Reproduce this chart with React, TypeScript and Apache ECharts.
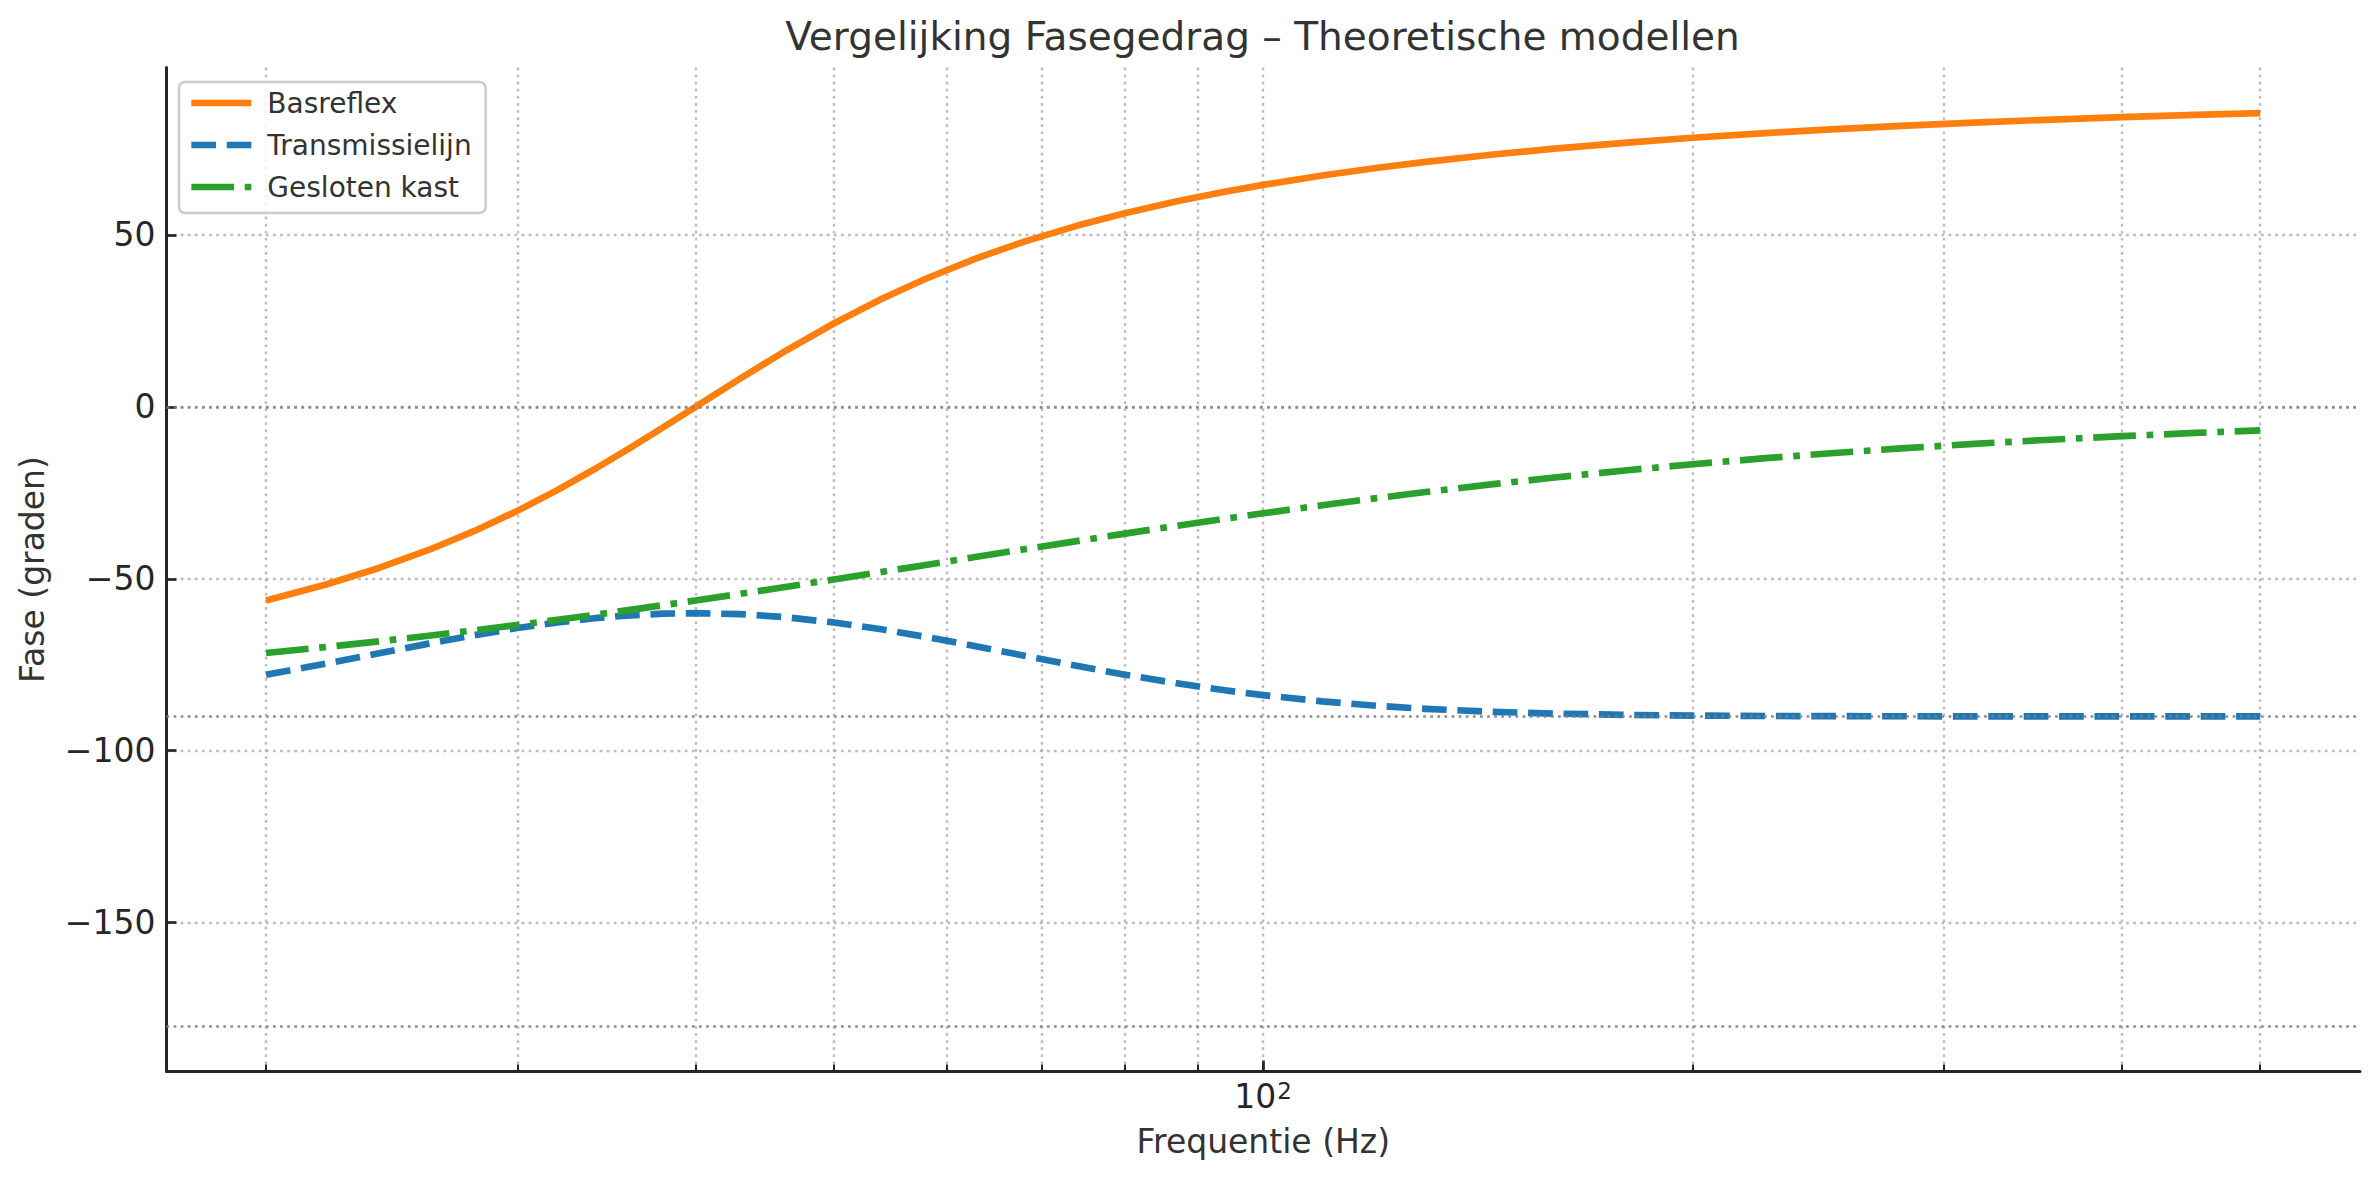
import React, { useEffect, useRef } from 'react';
import * as echarts from 'echarts';

const freqHz = [20, 22, 24, 26, 28, 30, 32, 34, 36, 38, 40, 43, 46, 50, 54, 58, 63, 68, 74, 80, 87, 94, 100, 110, 120, 130, 145, 160, 180, 200, 225, 250, 280, 315, 350, 400, 450, 500];

// Phase in degrees
const basreflex = [-56.31, -51.74, -46.85, -41.62, -36.08, -30.26, -24.23, -18.08, -11.92, -5.86, 0, 8.24, 15.66, 24.23, 31.36, 37.25, 43.23, 48.03, 52.63, 56.31, 59.75, 62.55, 64.54, 67.27, 69.44, 71.24, 73.38, 75.07, 76.84, 78.23, 79.6, 80.68, 81.7, 82.65, 83.39, 84.23, 84.88, 85.4];
const transmissielijn = [-77.88, -74.71, -71.66, -68.86, -66.4, -64.33, -62.69, -61.46, -60.62, -60.15, -60.0, -60.29, -61.08, -62.69, -64.69, -66.88, -69.67, -72.36, -75.31, -77.88, -80.39, -82.43, -83.84, -85.65, -86.92, -87.82, -88.69, -89.2, -89.58, -89.77, -89.89, -89.95, -89.98, -89.99, -90.0, -90.0, -90.0, -90.0];
const geslotenKast = [-71.57, -69.86, -68.2, -66.57, -64.98, -63.43, -61.93, -60.46, -59.04, -57.65, -56.31, -54.38, -52.52, -50.19, -48.01, -45.97, -43.6, -41.42, -39.04, -36.87, -34.59, -32.55, -30.96, -28.61, -26.57, -24.78, -22.48, -20.56, -18.43, -16.7, -14.93, -13.5, -12.09, -10.78, -9.73, -8.53, -7.59, -6.84];

const seriesNames = ['Basreflex', 'Transmissielijn', 'Gesloten kast'];
const seriesColors = ['#ff7f0e', '#1f77b4', '#2ca02c'];
const xGridTicks = [20, 30, 40, 50, 60, 70, 80, 90, 100, 200, 300, 400, 500];
const xMajorTicks = [100];
const yTicks = [-150, -100, -50, 0, 50];
const refLines = [0, -90, -180];
const xRange = [17.03, 587.4];
const yRange = [-193.27, 98.67];

const FONT = 'DejaVu Sans';

export default function App() {
  const ref = useRef<HTMLDivElement>(null);
  useEffect(() => {
    const chart = echarts.init(ref.current!, null, { renderer: 'svg' });
    const gridStyle = { color: '#b0b0b0', width: 2.4, type: [2.7, 4.4], opacity: 0.85 };
    const spine = { color: '#262626', width: 3 };
    const zip = (vals: number[]) => freqHz.map((f, i) => [f, vals[i]]);
    const dashes: any[] = ['solid', [24.7, 10.7], [42.7, 10.7, 6.7, 10.7]];

    chart.setOption({
      animation: false,
      backgroundColor: '#ffffff',
      title: {
        text: 'Vergelijking Fasegedrag – Theoretische modellen',
        left: 1257.5,
        top: 12,
        textAlign: 'center',
        textStyle: { fontFamily: FONT, fontSize: 39, fontWeight: 'normal', color: '#333333' },
      },
      legend: {
        orient: 'vertical',
        left: 179,
        top: 82,
        padding: [7, 14, 12, 9],
        itemWidth: 60,
        itemHeight: 20,
        itemGap: 14,
        backgroundColor: 'rgba(255,255,255,0.8)',
        borderColor: '#cccccc',
        borderWidth: 2.5,
        borderRadius: 6,
        itemStyle: { opacity: 0 },
        lineStyle: { width: 6.67 },
        textStyle: { fontFamily: FONT, fontSize: 28, color: '#333333', padding: [0, 0, 0, 11] },
        data: seriesNames.map((name, i) => ({
          name,
          itemStyle: { opacity: 0 },
          lineStyle: { width: 6.67, color: seriesColors[i], type: dashes[i] },
        })),
      },
      grid: { left: 166.5, right: 19, top: 67.5, bottom: 108.5, containLabel: false },
      xAxis: [
        {
          type: 'log',
          logBase: 10,
          min: xRange[0],
          max: xRange[1],
          position: 'bottom',
          name: 'Frequentie (Hz)',
          nameLocation: 'middle',
          nameGap: 53,
          nameTextStyle: { fontFamily: FONT, fontSize: 33, color: '#333333' },
          axisLine: { show: true, onZero: false, lineStyle: spine },
          axisTick: { show: true, inside: true, length: 7, customValues: xGridTicks, lineStyle: { color: '#262626', width: 2 } },
          axisLabel: { show: false },
          splitLine: { show: true, lineStyle: gridStyle },
          minorTick: { show: false },
        },
        {
          type: 'log',
          logBase: 10,
          min: xRange[0],
          max: xRange[1],
          position: 'bottom',
          axisLine: { show: false, onZero: false },
          axisTick: { show: true, inside: true, length: 11, customValues: xMajorTicks, lineStyle: { color: '#262626', width: 2.7 } },
          axisLabel: {
            show: true,
            customValues: xMajorTicks,
            margin: 8,
            fontFamily: FONT,
            fontSize: 33,
            color: '#262626',
            formatter: (v: number) => '{b|10}{s|' + Math.round(Math.log10(v)) + '}',
            rich: {
              b: { fontFamily: FONT, fontSize: 33, color: '#262626' },
              s: { fontFamily: FONT, fontSize: 23, color: '#262626', verticalAlign: 'top', padding: [0, 0, 0, 1] },
            },
          },
          splitLine: { show: false },
        },
      ],
      yAxis: {
        type: 'value',
        min: yRange[0],
        max: yRange[1],
        name: 'Fase (graden)',
        nameLocation: 'middle',
        nameGap: 118,
        nameRotate: 90,
        nameTextStyle: { fontFamily: FONT, fontSize: 33, color: '#333333' },
        axisLine: { show: true, onZero: false, lineStyle: spine },
        axisTick: { show: true, inside: true, length: 10, customValues: yTicks, lineStyle: { color: '#262626', width: 2.7 } },
        axisLabel: {
          show: true,
          customValues: yTicks,
          margin: 11,
          fontFamily: FONT,
          fontSize: 33,
          color: '#262626',
          formatter: (v: number) => (v < 0 ? '\u2212' + Math.abs(v) : String(v)),
        },
        splitLine: { show: true, lineStyle: gridStyle },
      },
      series: [basreflex, transmissielijn, geslotenKast].map((vals, i) => ({
        name: seriesNames[i],
        type: 'line',
        xAxisIndex: 0,
        data: zip(vals),
        showSymbol: false,
        symbol: 'none',
        color: seriesColors[i],
        lineStyle: { color: seriesColors[i], width: 6.67, type: dashes[i], join: 'round' },
        ...(i === 2
          ? {
              markLine: {
                silent: true,
                symbol: ['none', 'none'],
                label: { show: false },
                lineStyle: { color: '#808080', width: 2.7, type: [2.7, 4.4], opacity: 0.9 },
                data: refLines.map((v) => ({ yAxis: v })),
              },
            }
          : {}),
      })),
    });
    return () => chart.dispose();
  }, []);
  return (
    <div
      ref={ref}
      style={{ position: 'fixed', left: 0, top: 0, width: 2379, height: 1180, background: '#fff' }}
    />
  );
}
